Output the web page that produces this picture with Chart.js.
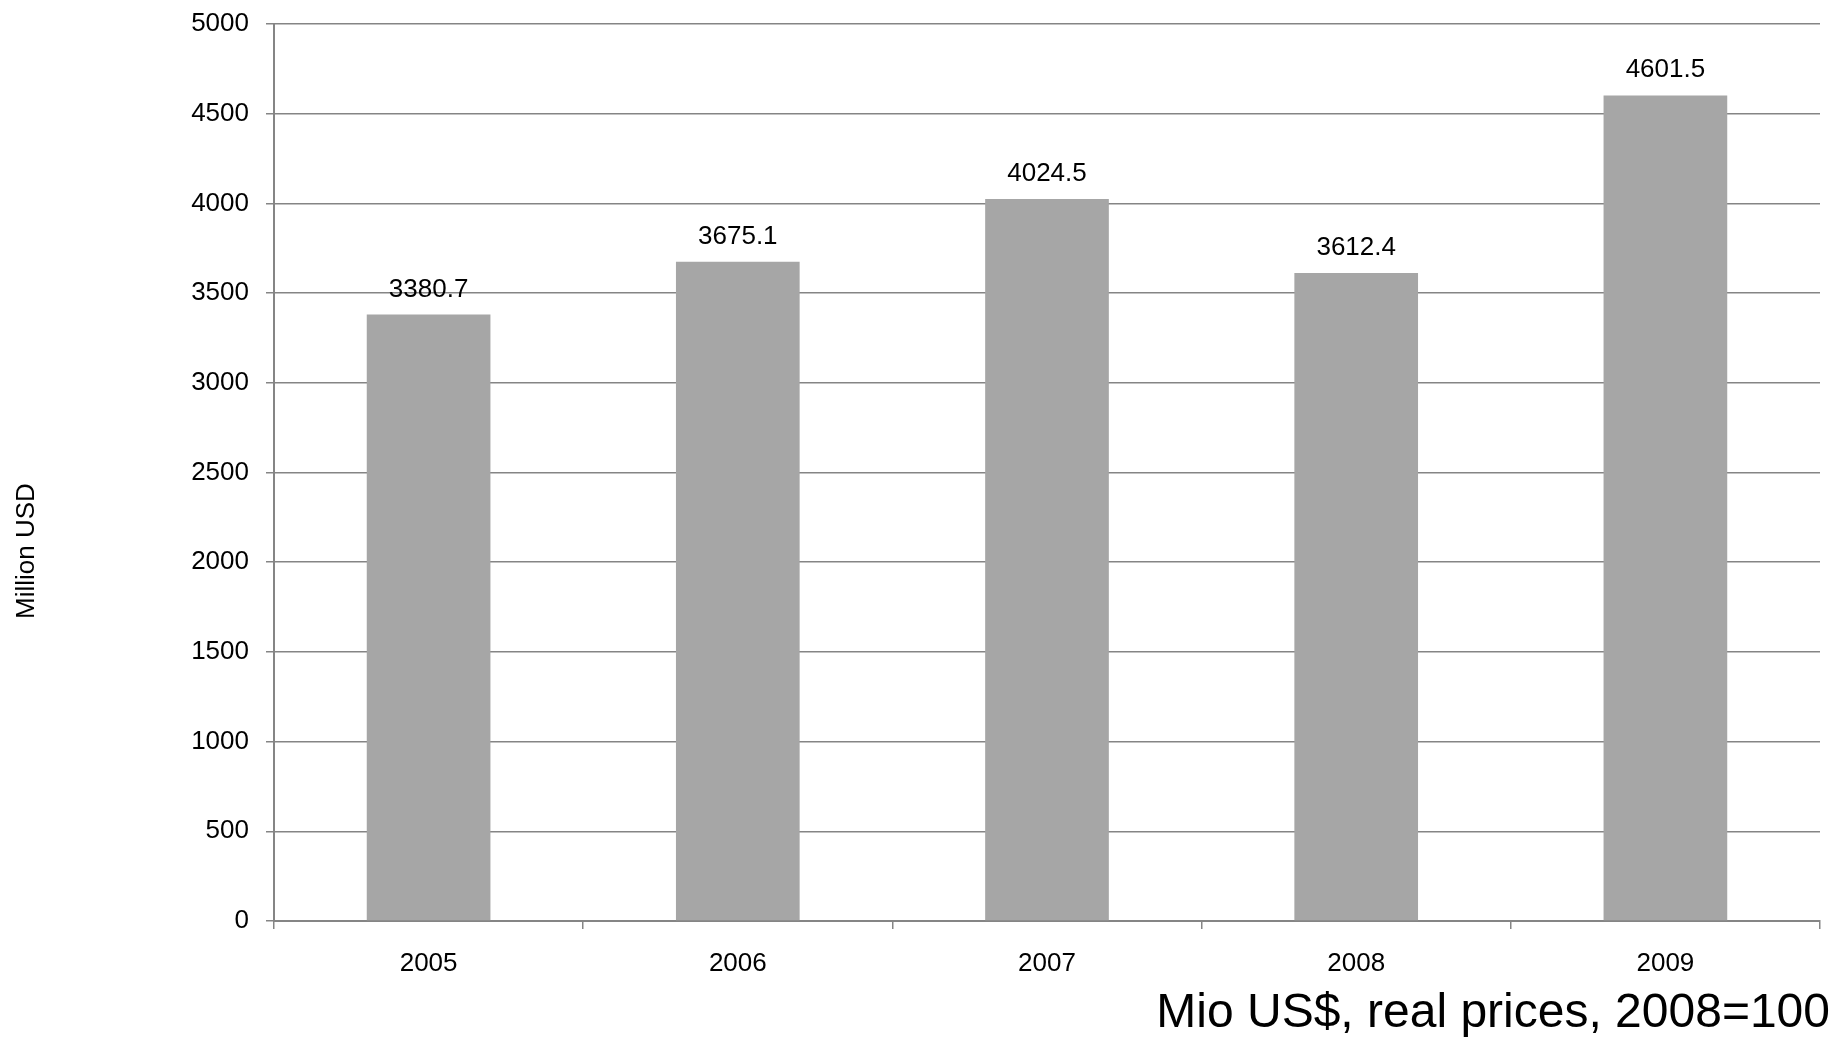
<!DOCTYPE html>
<html>
<head>
<meta charset="utf-8">
<title>Million USD, 2005–2009</title>
<script src="https://cdn.jsdelivr.net/npm/chart.js@4/dist/chart.umd.min.js"></script>
<style>
  html, body { margin: 0; padding: 0; background: #ffffff; overflow: hidden; }
  #chart { display: block; }
</style>
</head>
<body>
<canvas id="chart" width="1833" height="1038"></canvas>
<script>
// Annual values, million USD (real prices, 2008=100)
const years = ['2005', '2006', '2007', '2008', '2009'];
const values = [3380.7, 3675.1, 4024.5, 3612.4, 4601.5];
const yTicks = [0, 500, 1000, 1500, 2000, 2500, 3000, 3500, 4000, 4500, 5000];
const yAxisTitle = 'Million USD';
const footnote = 'Mio US$, real prices, 2008=100';

const FONT = '"Liberation Sans", Arial, Helvetica, sans-serif';
const LINE = '#858585';
const BAR = '#a6a6a6';

// Value printed above each bar, read from the bar element itself
const barValueLabels = {
  id: 'barValueLabels',
  afterDatasetsDraw(chart) {
    const ctx = chart.ctx;
    const meta = chart.getDatasetMeta(0);
    ctx.save();
    ctx.font = '26px ' + FONT;
    ctx.fillStyle = '#000000';
    ctx.textAlign = 'center';
    ctx.textBaseline = 'alphabetic';
    meta.data.forEach((bar, i) => {
      ctx.fillText(values[i].toFixed(1), bar.x, bar.y - 18);
    });
    ctx.restore();
  }
};

// Rotated axis caption and the units note in the lower right corner
const captions = {
  id: 'captions',
  afterDraw(chart) {
    const ctx = chart.ctx;
    ctx.save();
    ctx.fillStyle = '#000000';
    ctx.font = '26px ' + FONT;
    ctx.translate(34, 551);
    ctx.rotate(-Math.PI / 2);
    ctx.textAlign = 'center';
    ctx.textBaseline = 'alphabetic';
    ctx.fillText(yAxisTitle, 0, 0);
    ctx.restore();

    ctx.save();
    ctx.fillStyle = '#000000';
    ctx.font = '48px ' + FONT;
    ctx.textAlign = 'right';
    ctx.textBaseline = 'alphabetic';
    ctx.fillText(footnote, 1830, 1027);
    ctx.restore();
  }
};

new Chart(document.getElementById('chart'), {
  type: 'bar',
  data: {
    labels: years,
    datasets: [{
      data: values,
      backgroundColor: BAR,
      borderWidth: 0,
      barPercentage: 0.4,
      categoryPercentage: 1.0
    }]
  },
  options: {
    responsive: false,
    animation: false,
    devicePixelRatio: 1,
    layout: { padding: { top: 24, right: 13, bottom: 0, left: 0 } },
    plugins: {
      legend: { display: false },
      tooltip: { enabled: false },
      title: { display: false }
    },
    scales: {
      x: {
        afterFit(scale) {
          scale.height = 117;
          scale.paddingLeft = 0;
          scale.paddingRight = 0;
        },
        grid: {
          display: true,
          offset: true,
          drawOnChartArea: false,
          drawTicks: true,
          tickLength: 8,
          color: LINE,
          lineWidth: 1.5
        },
        border: { display: true, color: LINE, width: 2 },
        ticks: {
          color: '#000000',
          font: { family: FONT, size: 26 },
          padding: 19,
          maxRotation: 0
        }
      },
      y: {
        min: 0,
        max: 5000,
        afterFit(scale) {
          scale.width = 274;
          scale.paddingTop = 0;
          scale.paddingBottom = 0;
        },
        afterBuildTicks(scale) { scale.ticks = yTicks.map(v => ({ value: v })); },
        grid: {
          display: true,
          drawOnChartArea: true,
          drawTicks: true,
          tickLength: 8,
          color: LINE,
          lineWidth: 1.5
        },
        border: { display: true, color: LINE, width: 2 },
        ticks: {
          color: '#000000',
          font: { family: FONT, size: 26 },
          padding: 17,
          callback: (v) => String(v)
        }
      }
    }
  },
  plugins: [barValueLabels, captions]
});
</script>
</body>
</html>
